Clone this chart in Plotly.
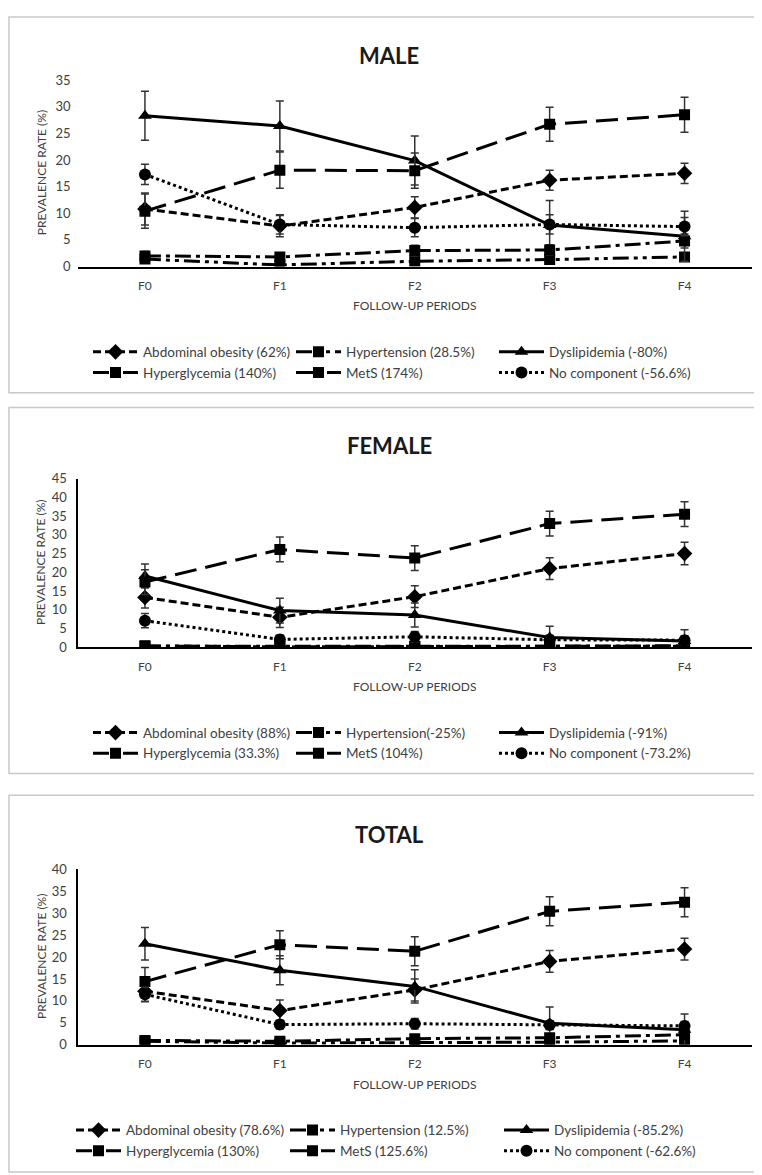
import plotly.graph_objects as go

W, H = 762, 1175
FONT = "Lato"

periods = ["F0", "F1", "F2", "F3", "F4"]
series_names = ["Abdominal obesity", "Hypertension", "Dyslipidemia",
                "Hyperglycemia", "MetS", "No component"]

# ---- MALE ----
male_labels = ["Abdominal obesity (62%)", "Hypertension (28.5%)", "Dyslipidemia (-80%)",
               "Hyperglycemia (140%)", "MetS (174%)", "No component (-56.6%)"]
male_ao = [10.8, 7.6, 11.1, 16.2, 17.5]
male_ht = [1.4, 0.3, 1.0, 1.3, 1.8]
male_dl = [28.3, 26.4, 19.9, 7.8, 5.7]
male_hg = [2.0, 1.8, 3.0, 3.1, 4.8]
male_mets = [10.4, 18.1, 18.0, 26.7, 28.5]
male_nc = [17.3, 7.9, 7.3, 7.9, 7.5]
male_ao_err = [3.0, 2.0, 2.0, 1.9, 1.9]
male_ht_err = [0.7, 0.4, 0.6, 0.7, 0.8]
male_dl_err = [4.6, 4.7, 4.6, 4.6, 4.7]
male_hg_err = [0.8, 0.8, 1.0, 1.0, 1.3]
male_mets_err = [3.2, 3.4, 3.3, 3.2, 3.3]
male_nc_err = [1.9, 1.8, 1.7, 1.8, 1.7]

# ---- FEMALE ----
female_labels = ["Abdominal obesity (88%)", "Hypertension(-25%)", "Dyslipidemia (-91%)",
                 "Hyperglycemia (33.3%)", "MetS (104%)", "No component (-73.2%)"]
female_ao = [13.3, 8.0, 13.5, 21.0, 25.0]
female_ht = [0.4, 0.1, 0.2, 0.2, 0.3]
female_dl = [19.0, 9.8, 8.6, 2.6, 1.7]
female_hg = [0.3, 0.2, 0.3, 0.3, 0.4]
female_mets = [17.4, 26.1, 23.8, 33.0, 35.5]
female_nc = [7.1, 2.1, 2.8, 2.0, 1.9]
female_ao_err = [2.8, 2.7, 2.9, 2.9, 3.0]
female_ht_err = [0.5, 0.3, 0.4, 0.4, 0.5]
female_dl_err = [3.2, 3.3, 3.2, 3.0, 3.0]
female_hg_err = [0.4, 0.3, 0.4, 0.4, 0.5]
female_mets_err = [3.3, 3.3, 3.3, 3.3, 3.3]
female_nc_err = [1.9, 1.2, 1.4, 1.2, 1.2]

# ---- TOTAL ----
total_labels = ["Abdominal obesity (78.6%)", "Hypertension (12.5%)", "Dyslipidemia (-85.2%)",
                "Hyperglycemia (130%)", "MetS (125.6%)", "No component (-62.6%)"]
total_ao = [12.2, 7.8, 12.5, 19.0, 21.8]
total_ht = [0.8, 0.4, 0.5, 0.6, 0.9]
total_dl = [23.0, 17.0, 13.3, 4.9, 3.4]
total_hg = [1.0, 0.8, 1.4, 1.6, 2.3]
total_mets = [14.4, 22.8, 21.3, 30.4, 32.5]
total_nc = [11.5, 4.6, 4.8, 4.5, 4.3]
total_ao_err = [2.4, 2.4, 2.5, 2.5, 2.5]
total_ht_err = [0.4, 0.3, 0.3, 0.3, 0.4]
total_dl_err = [3.7, 3.3, 3.8, 3.7, 3.6]
total_hg_err = [0.5, 0.5, 0.6, 0.6, 0.7]
total_mets_err = [3.2, 3.2, 3.3, 3.3, 3.3]
total_nc_err = [1.6, 1.0, 1.2, 1.0, 1.0]

panel_titles = ["MALE", "FEMALE", "TOTAL"]
y_max = [35, 45, 40]
x_title = "FOLLOW-UP PERIODS"
y_title = "PREVALENCE RATE (%)"

panels = [
    (male_labels, [male_ao, male_ht, male_dl, male_hg, male_mets, male_nc],
     [male_ao_err, male_ht_err, male_dl_err, male_hg_err, male_mets_err, male_nc_err]),
    (female_labels, [female_ao, female_ht, female_dl, female_hg, female_mets, female_nc],
     [female_ao_err, female_ht_err, female_dl_err, female_hg_err, female_mets_err, female_nc_err]),
    (total_labels, [total_ao, total_ht, total_dl, total_hg, total_mets, total_nc],
     [total_ao_err, total_ht_err, total_dl_err, total_hg_err, total_mets_err, total_nc_err]),
]

# styles per series (same order as series_names)
styles = [
    dict(dash="8px,4px", symbol="diamond", size=12),
    dict(dash="16px,5px,4px,5px,4px,5px", symbol="square", size=11),
    dict(dash="solid", symbol="triangle-up", size=12),
    dict(dash="16px,5px,4px,5px", symbol="square", size=11),
    dict(dash="22px,9px", symbol="square", size=11),
    dict(dash="3px,3px", symbol="circle", size=12),
]

# layout geometry in pixels (from top)
boxes = [(1, 1, 759, 382), (1, 397, 759, 768), (1, 790, 759, 1172)]
plot_top = [65, 469, 865]
plot_bot = [254, 640, 1043]
title_y = [40, 435, 830]
show_yline = [False, True, True]
legend_x = [80, 80, 63]
legend_entry = [143, 143, 154]
x_left, x_right = 69.5, 744


def py(p):
    return 1 - p / H


def px(p):
    return p / W


fig = go.Figure()
annotations = []
shapes = []

for i, (labels, vals, errs) in enumerate(panels):
    ax = "" if i == 0 else str(i + 1)
    leg = "legend" if i == 0 else "legend" + str(i + 1)
    for j in range(6):
        st = styles[j]
        fig.add_trace(go.Scatter(
            x=periods, y=vals[j], name=labels[j],
            xaxis="x" + ax, yaxis="y" + ax, legend=leg,
            mode="lines+markers",
            line=dict(color="black", width=3, dash=st["dash"]),
            marker=dict(color="black", symbol=st["symbol"], size=st["size"]),
            error_y=dict(type="data", array=errs[j], visible=True,
                         color="#333333", thickness=1.5, width=4),
        ))
    fig.layout["xaxis" + ax] = dict(
        domain=[px(x_left), px(x_right)], anchor="y" + ax,
        type="category", range=[-0.5, 4.5],
        showline=True, linecolor="black", linewidth=2,
        showgrid=False, zeroline=False, ticks="",
        tickfont=dict(family=FONT, size=12, color="#404040"),
        ticklabelstandoff=7, fixedrange=True,
    )
    fig.layout["yaxis" + ax] = dict(
        domain=[py(plot_bot[i]), py(plot_top[i])], anchor="x" + ax,
        range=[0, y_max[i]], dtick=5, tick0=0,
        showline=show_yline[i], linecolor="black", linewidth=2,
        showgrid=False, zeroline=False, ticks="",
        tickfont=dict(family=FONT, size=13, color="#404040"),
        ticklabelstandoff=6, fixedrange=True,
    )
    # panel border
    x0, y0, x1, y1 = boxes[i]
    shapes.append(dict(type="rect", xref="paper", yref="paper",
                       x0=px(x0), x1=px(x1), y0=py(y1), y1=py(y0),
                       line=dict(color="#c8c8c8", width=1.5)))
    # titles
    annotations.append(dict(text="<b>" + panel_titles[i] + "</b>", xref="paper", yref="paper",
                            x=px(381), y=py(title_y[i]), xanchor="center", yanchor="middle",
                            showarrow=False, font=dict(family=FONT, size=22, color="#1a1a1a")))
    annotations.append(dict(text=x_title, xref="paper", yref="paper",
                            x=px((x_left + x_right) / 2), y=py(plot_bot[i] + 40),
                            xanchor="center", yanchor="middle", showarrow=False,
                            font=dict(family=FONT, size=12, color="#404040")))
    annotations.append(dict(text=y_title, xref="paper", yref="paper",
                            x=px(33), y=py((plot_top[i] + plot_bot[i]) / 2),
                            xanchor="center", yanchor="middle", textangle=-90, showarrow=False,
                            font=dict(family=FONT, size=12, color="#404040")))
    fig.layout[leg] = dict(
        orientation="h", x=px(legend_x[i]), xanchor="left",
        y=py(plot_bot[i] + 71), yanchor="top",
        entrywidth=legend_entry[i], entrywidthmode="pixels", itemwidth=45,
        font=dict(family=FONT, size=13.5, color="#404040"),
        bgcolor="rgba(0,0,0,0)", traceorder="normal",
    )

fig.update_layout(
    width=W, height=H, margin=dict(l=0, r=0, t=0, b=0),
    paper_bgcolor="white", plot_bgcolor="white",
    showlegend=True, annotations=annotations, shapes=shapes,
    font=dict(family=FONT),
)

fig.write_html("out.html")
